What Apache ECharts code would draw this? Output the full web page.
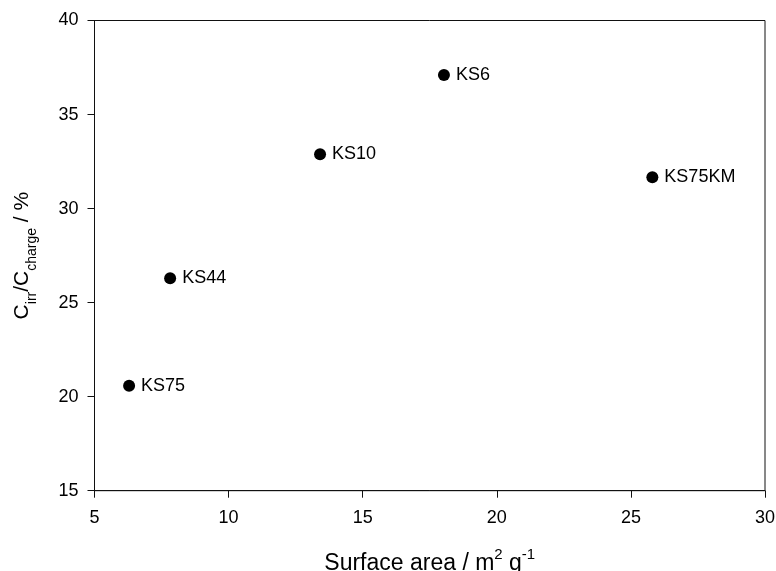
<!DOCTYPE html>
<html>
<head>
<meta charset="utf-8">
<script src="https://cdn.jsdelivr.net/npm/echarts@6/dist/echarts.min.js"></script>
<style>
  html, body { margin: 0; padding: 0; background: #fff; }
  #chart { width: 776px; height: 571px; }
</style>
</head>
<body>
<div id="chart"></div>
<script>
const samples = ['KS75', 'KS44', 'KS10', 'KS6', 'KS75KM'];
const surfaceArea = [6.29, 7.82, 13.41, 18.03, 25.80];
const irrRatio = [20.58, 26.30, 32.89, 37.10, 31.66];
const xTicks = [5, 10, 15, 20, 25, 30];
const yTicks = [15, 20, 25, 30, 35, 40];

const font = '"Liberation Sans", Arial, sans-serif';
const chart = echarts.init(document.getElementById('chart'));

const axisCommon = {
  type: 'value',
  interval: 5,
  axisLine: { show: true, lineStyle: { color: '#111', width: 1 } },
  axisTick: { show: true, inside: false, length: 7, lineStyle: { color: '#111' } },
  splitLine: { show: false },
  axisLabel: { color: '#000', fontSize: 18, fontFamily: font }
};

chart.setOption({
  backgroundColor: '#fff',
  animation: false,
  grid: {
    left: 94.5, right: 11, top: 20.5, bottom: 80.3,
    outerBoundsMode: 'none',
    containLabel: false,
    show: true, borderColor: '#111', borderWidth: 1
  },
  xAxis: Object.assign({}, axisCommon, {
    min: xTicks[0],
    max: xTicks[xTicks.length - 1],
    axisLabel: Object.assign({}, axisCommon.axisLabel, { margin: 18 }),
    name: '{a|Surface area / m}{sup|2}{a| g}{sup|-1}',
    nameLocation: 'middle',
    nameGap: 57,
    nameTextStyle: {
      rich: {
        a: { fontSize: 23, fontFamily: font, color: '#000', verticalAlign: 'bottom', lineHeight: 27 },
        sup: { fontSize: 15, fontFamily: font, color: '#000', verticalAlign: 'top', lineHeight: 27 }
      }
    }
  }),
  yAxis: Object.assign({}, axisCommon, {
    min: yTicks[0],
    max: yTicks[yTicks.length - 1],
    axisLabel: Object.assign({}, axisCommon.axisLabel, { margin: 16 }),
    name: '{a|C}{s|irr}{a|/C}{s|charge}{a| / %}',
    nameLocation: 'middle',
    nameGap: 55,
    nameRotate: 90,
    nameTextStyle: {
      rich: {
        a: { fontSize: 21, fontFamily: font, color: '#000', verticalAlign: 'top', lineHeight: 28 },
        s: { fontSize: 14, fontFamily: font, color: '#000', verticalAlign: 'bottom', lineHeight: 28 }
      }
    }
  }),
  series: [{
    type: 'scatter',
    symbol: 'circle',
    symbolSize: 12,
    itemStyle: { color: '#000', opacity: 1 },
    data: surfaceArea.map((x, i) => ({ value: [x, irrRatio[i]], name: samples[i] })),
    label: {
      show: true,
      position: 'right',
      distance: 6,
      formatter: p => p.name,
      color: '#000',
      opacity: 1,
      fontSize: 18,
      fontFamily: font
    }
  }]
});
</script>
</body>
</html>
